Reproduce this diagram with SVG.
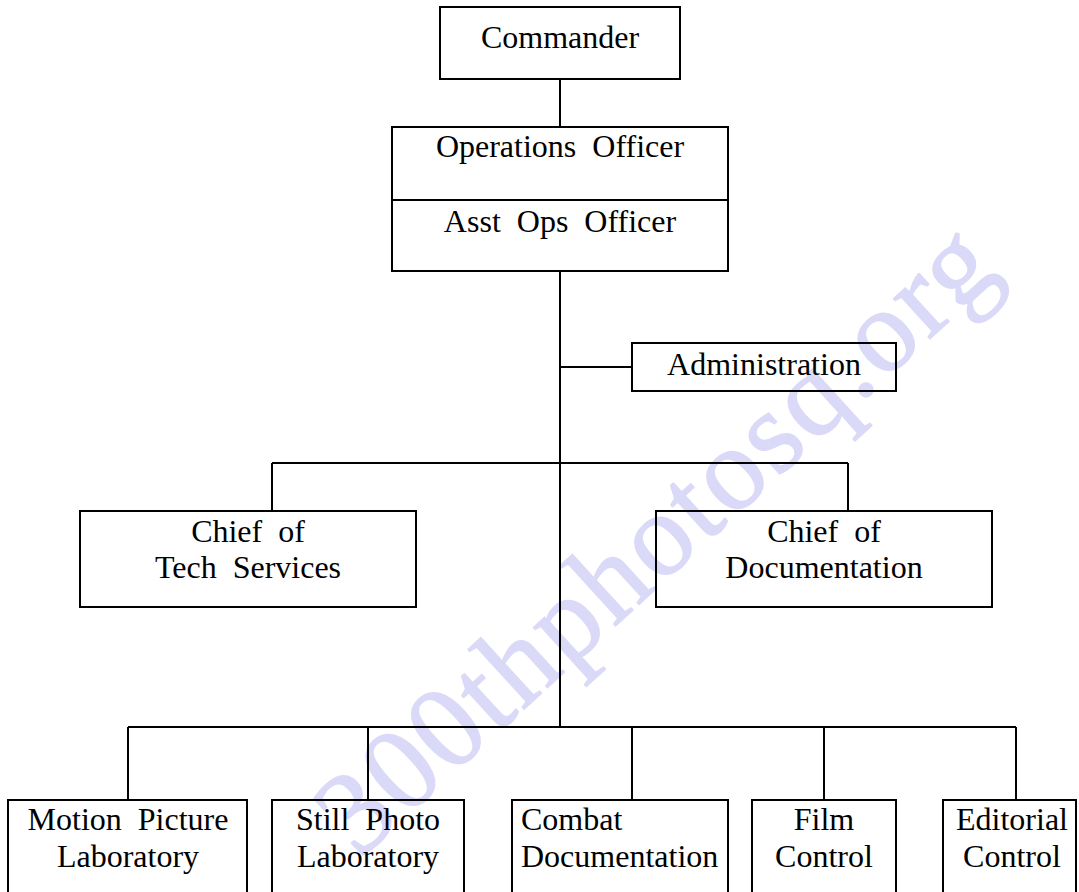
<svg xmlns="http://www.w3.org/2000/svg" width="1079" height="892" viewBox="0 0 1079 892">
<style>
.box{fill:none;stroke:#000;stroke-width:2}
.ln{fill:none;stroke:#000;stroke-width:2}
text{font-family:"Liberation Serif","Times New Roman",serif;font-size:32px;fill:#000;word-spacing:8px}
.c{text-anchor:middle}
.wm{font-family:"Liberation Serif","Times New Roman",serif;font-size:118px;fill:#dadaf8;stroke:#dadaf8;stroke-width:1.5;stroke-linejoin:round;word-spacing:0}
</style>
<rect width="1079" height="892" fill="#fff"/>
<text class="wm" x="359" y="860" textLength="870" lengthAdjust="spacing" transform="rotate(-42.4 359 860)">300thphotosq.org</text>
<g id="connectors">
<path class="ln" d="M560 79V127M560 271V727M560 367H632M272 463H848M272 463V511M848 463V511M128 727H1016M128 727V800M368 727V800M632 727V800M824 727V800M1016 727V800"/>
</g>
<g id="commander"><rect class="box" x="440" y="7" width="240" height="72"/><text class="c" x="560" y="48">Commander</text></g>
<g id="operations"><rect class="box" x="392" y="127" width="336" height="144"/><path class="ln" d="M392 200H728"/><text class="c" x="560" y="157">Operations Officer</text><text class="c" x="560" y="232">Asst Ops Officer</text></g>
<g id="administration"><rect class="box" x="632" y="343" width="264" height="48"/><text class="c" x="764" y="375">Administration</text></g>
<g id="chief-tech"><rect class="box" x="80" y="511" width="336" height="96"/><text class="c" x="248" y="542">Chief of</text><text class="c" x="248" y="578">Tech Services</text></g>
<g id="chief-doc"><rect class="box" x="656" y="511" width="336" height="96"/><text class="c" x="824" y="542">Chief of</text><text class="c" x="824" y="578">Documentation</text></g>
<g id="motion"><rect class="box" x="8" y="800" width="239" height="100"/><text class="c" x="128" y="830">Motion Picture</text><text class="c" x="128" y="867">Laboratory</text></g>
<g id="still"><rect class="box" x="272" y="800" width="192" height="100"/><text class="c" x="368" y="830">Still Photo</text><text class="c" x="368" y="867">Laboratory</text></g>
<g id="combat"><rect class="box" x="512" y="800" width="216" height="100"/><text x="521" y="830">Combat</text><text x="521" y="867">Documentation</text></g>
<g id="film"><rect class="box" x="752" y="800" width="144" height="100"/><text class="c" x="824" y="830">Film</text><text class="c" x="824" y="867">Control</text></g>
<g id="editorial"><rect class="box" x="943" y="800" width="133" height="100"/><text class="c" x="1012" y="830">Editorial</text><text class="c" x="1012" y="867">Control</text></g>
</svg>
